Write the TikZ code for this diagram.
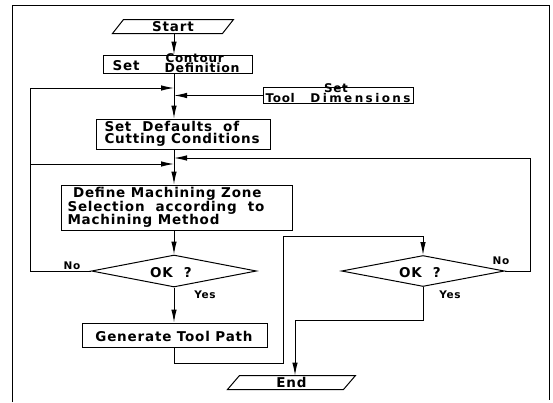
\documentclass[tikz,border=0pt]{standalone}
\usepackage{fontspec}
\usetikzlibrary{shapes.geometric,arrows.meta}
\newfontfamily\flowfont{DejaVu Sans Bold}[LetterSpace=6]
\newfontfamily\wideflow{DejaVu Sans Bold}[LetterSpace=20]
\begin{document}
\begin{tikzpicture}[x=1pt,y=-1pt,line width=1pt,
  every node/.style={font=\flowfont\fontsize{13.5}{14}\selectfont,inner sep=0pt},
  box/.style={draw,rectangle},
  iobox/.style={rectangle,minimum height=13pt},
  dec/.style={draw,diamond,inner sep=0pt},
  arr/.style={-{Latex[length=13pt,width=5.5pt]}},
  stack/.style={font=\flowfont\fontsize{12}{12}\selectfont,text height=6.5pt,text depth=0pt},
  lbl/.style={font=\flowfont\fontsize{10.5}{11}\selectfont}]
\useasboundingbox (0,0) rectangle (553,402);
% frame
\draw[line width=0.7pt] (12,402) -- (12,5) -- (549,5) -- (549,400);
% nodes
\node[iobox,minimum width=109pt] (start) at (173,26.5) {Start};
\draw ([xshift=-5.5pt]start.south west) -- ([xshift=5.5pt]start.north west) -- ([xshift=5.5pt]start.north east) -- ([xshift=-5.5pt]start.south east) -- cycle;
\node[box,minimum width=149pt,minimum height=18pt] (contour) at (177.5,64) {};
\node (contourset) at (126,65.5) {Set};
\node[anchor=base west,stack] (contourtop) at (165,62) {Contour};
\node[anchor=base west,stack,font=\flowfont\fontsize{12.5}{12}\selectfont] (contourbot) at (164,72.5) {Definition};
\node[box,minimum width=150pt,minimum height=16pt] (tool) at (338,95.5) {};
\node[anchor=base,stack] (toolset) at (336,92) {Set};
\node[anchor=base west,stack] (tooltxt) at (265,102) {Tool};
\node[anchor=base east,stack,font=\wideflow\fontsize{12}{12}\selectfont] (tooldim) at (411,102) {Dimensions};
\node[box,minimum width=174pt,minimum height=30pt] (defaults) at (183,134) {};
\node[anchor=north west,align=left,font=\flowfont\fontsize{13.5}{12.5}\selectfont] (deftxt) at (104,120.5) {Set\ \ Defaults\ \ of\\Cutting Conditions};
\node[box,minimum width=231pt,minimum height=45pt] (define) at (176.5,207.5) {};
\node[anchor=north west,align=left,font=\flowfont\fontsize{13.5}{13.5}\selectfont] (definetxt) at (67,187) {\ Define Machining Zone\\Selection\ \ according\ \ to\\Machining Method};
\node[dec,minimum width=165pt,minimum height=32pt] (d1) at (174,271) {};
\node (d1txt) at (171,272.5) {OK\ \ ?};
\node[box,minimum width=185pt,minimum height=24pt] (gen) at (174.5,335) {};
\node (gentxt) at (174,336) {Generate Tool Path};
\node[dec,minimum width=163pt,minimum height=31pt] (d2) at (423,271) {};
\node (d2txt) at (420,272.5) {OK\ \ ?};
\node[iobox,minimum width=115pt] (end) at (291.5,382.5) {End};
\draw ([xshift=-6pt]end.south west) -- ([xshift=6pt]end.north west) -- ([xshift=6pt]end.north east) -- ([xshift=-6pt]end.south east) -- cycle;
% labels
\node[lbl] (no1) at (72,266) {No};
\node[lbl] (no2) at (501,261) {No};
\node[lbl] (yes1) at (205,295) {Yes};
\node[lbl] (yes2) at (450,295) {Yes};
% helper coordinates
\coordinate (mx) at (174,0);
\coordinate (lx) at (30,0);
\coordinate (rx) at (530,0);
\coordinate (j1) at (174,88);
\coordinate (j3) at (174,158);
\coordinate (j4) at (174,164);
\coordinate (c1) at (283,363);
\coordinate (c2) at (283,236);
\coordinate (c3) at (295,320);
% connectors
\draw[arr] (mx |- start.south) -- (mx |- contour.north);
\draw[arr] (mx |- contour.south) -- (mx |- defaults.north);
\draw[arr] (tool.west) -- (mx |- tool.west);
\draw[arr] (d1.west) -- (lx |- d1.west) -- (lx |- j1) -- (j1);
\draw[arr] (lx |- j4) -- (j4);
\draw[arr] (d2.east) -- (rx |- d2.east) -- (rx |- j3) -- (j3);
\draw[arr] (mx |- defaults.south) -- (mx |- define.north);
\draw[arr] (d1.north |- define.south) -- (d1.north);
\draw[arr] (d1.south) -- (d1.south |- gen.north);
\draw[arr] (gen.south) |- (c1) -- (c2) -| (d2.north);
\draw[arr] (d2.south) |- (c3) -- (c3 |- end.north);
\end{tikzpicture}
\end{document}
